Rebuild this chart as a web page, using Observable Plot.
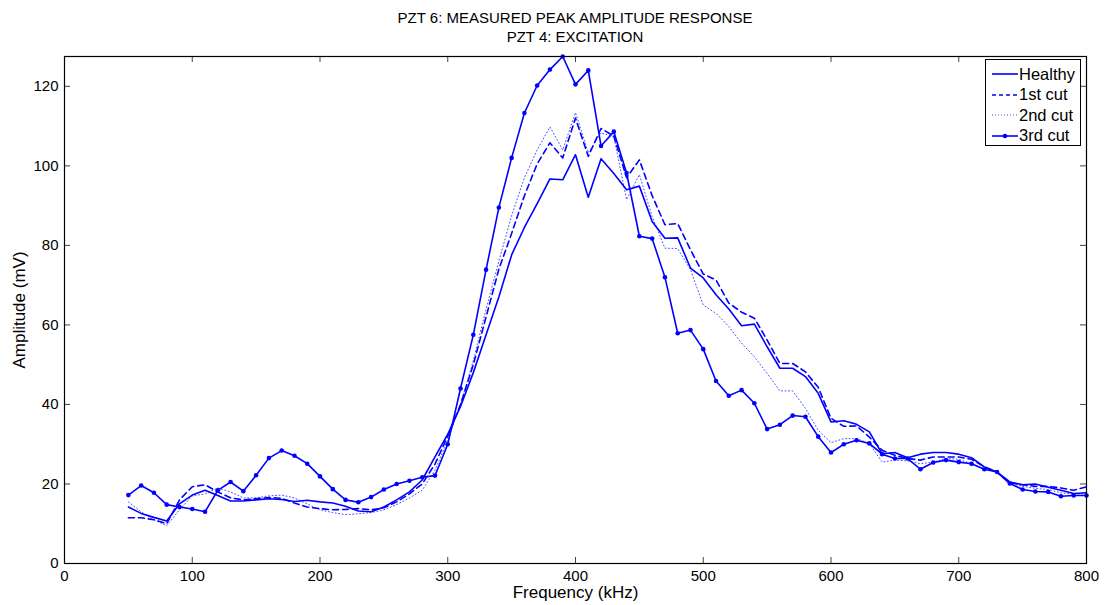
<!DOCTYPE html>
<html>
<head>
<meta charset="utf-8">
<script src="https://cdn.jsdelivr.net/npm/d3@7"></script>
<script src="https://cdn.jsdelivr.net/npm/@observablehq/plot@0.6"></script>
<style>
  html, body { margin: 0; padding: 0; background: #fff; }
  body { width: 1106px; height: 605px; position: relative; font-family: "Liberation Sans", Arial, sans-serif; overflow: hidden; }
  #title { position: absolute; left: 64px; top: 8px; width: 1022px; text-align: center; font-size: 15px; line-height: 19px; color: #000; }
  #chart { position: absolute; left: 0; top: 46px; }
  #legend { position: absolute; left: 985px; top: 59px; width: 96px; height: 87px; border: 1px solid #000; background: #fff; box-sizing: border-box; font-size: 16.5px; }
  #legend .row { position: absolute; left: 0; height: 20px; display: flex; align-items: center; }
  #legend svg { margin-left: 6px; margin-right: 1px; }
</style>
</head>
<body>
<div id="title">PZT 6: MEASURED PEAK AMPLITUDE RESPONSE<br>PZT 4: EXCITATION</div>
<div id="chart"></div>
<div id="legend"></div>
<script>
const freq = [50,60,70,80,90,100,110,120,130,140,150,160,170,180,190,200,210,220,230,240,250,260,270,280,290,300,310,320,330,340,350,360,370,380,390,400,410,420,430,440,450,460,470,480,490,500,510,520,530,540,550,560,570,580,590,600,610,620,630,640,650,660,670,680,690,700,710,720,730,740,750,760,770,780,790,800];

const healthy = [14.2,12.6,11.6,10.7,15.0,17.2,18.4,17.1,15.7,15.7,16.0,16.3,16.1,15.6,15.9,15.5,15.2,14.4,13.2,13.0,14.2,16.0,18.0,21.0,26.8,32.5,39.5,48.0,57.5,67.0,77.6,84.5,90.5,96.7,96.5,102.8,92.1,101.8,98.1,94.0,94.9,86.0,81.8,81.9,74.3,71.8,67.6,64.0,59.8,60.2,54.5,49.1,49.1,47.0,42.8,35.6,35.9,35.0,33.1,27.6,27.9,26.6,27.5,27.9,27.9,27.5,26.6,24.3,23.0,20.5,19.8,20.0,19.2,18.4,17.6,17.8];

const cut1 = [11.5,11.5,11.0,10.0,16.0,19.3,19.8,18.0,16.5,16.0,16.3,16.6,16.4,15.2,14.2,13.8,13.5,13.6,13.8,13.5,14.0,15.5,17.5,20.0,25.0,32.0,40.0,50.0,62.0,74.0,83.0,92.5,100.5,105.8,102.0,112.0,102.4,109.4,107.5,97.0,101.5,92.5,85.2,85.5,78.9,72.8,71.3,65.5,63.2,61.7,56.2,50.3,50.3,48.2,44.3,36.5,34.5,34.6,31.8,28.5,27.2,26.4,26.0,26.8,26.8,26.8,26.2,24.3,23.0,20.3,19.8,19.4,19.4,19.0,18.4,19.3];

const cut2 = [15.5,13.0,11.0,9.5,13.5,17.0,17.5,19.0,18.0,16.5,16.5,17.0,17.2,16.5,15.0,13.5,12.8,12.3,12.5,12.8,13.5,14.8,16.5,18.4,23.5,31.0,40.0,51.0,64.0,76.0,87.5,97.0,104.0,109.8,104.0,113.4,103.3,108.3,107.3,91.5,97.8,87.3,79.3,79.2,73.9,65.0,62.9,59.6,55.4,52.0,47.8,43.4,43.4,39.0,33.5,30.4,31.4,31.4,30.2,25.5,26.0,25.8,25.1,25.5,26.4,26.2,25.1,23.7,23.0,20.1,19.4,18.9,18.6,17.8,17.4,17.6];

const cut3 = [17.2,19.6,17.8,14.8,14.2,13.7,13.0,18.4,20.5,18.2,22.2,26.5,28.4,27.1,25.1,21.9,18.7,16.0,15.4,16.7,18.6,20.0,20.8,21.7,22.1,30.0,44.0,57.5,73.9,89.5,102.0,113.3,120.2,124.2,127.5,120.5,124.0,105.0,108.6,98.2,82.3,81.7,72.0,57.9,58.7,53.9,45.9,42.2,43.6,40.3,33.8,34.9,37.2,36.9,31.9,27.9,30.0,31.0,30.2,27.5,26.4,26.4,23.7,25.4,26.0,25.5,25.1,23.7,23.0,20.1,18.6,18.1,18.0,16.9,17.1,17.1];

const seriesNames = ["Healthy", "1st cut", "2nd cut", "3rd cut"];
const xTicks = [0,100,200,300,400,500,600,700,800];
const yTicks = [0,20,40,60,80,100,120];
const xDomain = [0, 800];
const yDomain = [0, 127.5];

const toRows = (vals) => freq.map((f, i) => ({f, v: vals[i]}));
const rowsH = toRows(healthy), rows1 = toRows(cut1), rows2 = toRows(cut2), rows3 = toRows(cut3);

const W = 1106, H = 559, mT = 10, mB = 42, mL = 64, mR = 20;
const frameH = H - mT - mB, frameW = W - mL - mR;
const blue = "#0000ff";
const tickLen = 6;

const plot = Plot.plot({
  width: W, height: H,
  marginTop: mT, marginBottom: mB, marginLeft: mL, marginRight: mR,
  style: {fontFamily: "Liberation Sans, Arial, sans-serif", fontSize: "15px", color: "#000", background: "#fff"},
  x: {domain: xDomain},
  y: {domain: yDomain},
  marks: [
    Plot.tickX(xTicks, {x: d => d, insetTop: frameH - tickLen, stroke: "#444", strokeWidth: 1}),
    Plot.tickX(xTicks, {x: d => d, insetBottom: frameH - tickLen, stroke: "#444", strokeWidth: 1}),
    Plot.tickY(yTicks, {y: d => d, insetRight: frameW - tickLen, stroke: "#444", strokeWidth: 1}),
    Plot.tickY(yTicks, {y: d => d, insetLeft: frameW - tickLen, stroke: "#444", strokeWidth: 1}),
    Plot.line(rows2, {x: "f", y: "v", stroke: blue, strokeWidth: 1, strokeDasharray: "1,2.5", strokeOpacity: 0.7}),
    Plot.line(rows1, {x: "f", y: "v", stroke: blue, strokeWidth: 1.6, strokeDasharray: "6,4"}),
    Plot.line(rowsH, {x: "f", y: "v", stroke: blue, strokeWidth: 1.6}),
    Plot.line(rows3, {x: "f", y: "v", stroke: blue, strokeWidth: 1.6}),
    Plot.dot(rows3, {x: "f", y: "v", fill: blue, r: 2.3}),
    Plot.frame({stroke: "#000", strokeWidth: 1.2}),
    Plot.axisX(xTicks, {tickSize: 0, tickPadding: 7, fontSize: 15, label: null}),
    Plot.axisX({tickSize: 0, ticks: [], label: "Frequency (kHz)", labelAnchor: "center", labelOffset: 34, labelArrow: "none", fontSize: 17}),
    Plot.axisY(yTicks, {tickSize: 0, tickPadding: 6, fontSize: 15, label: null}),
    Plot.axisY({tickSize: 0, ticks: [], label: "Amplitude (mV)", labelAnchor: "center", labelOffset: 52, labelArrow: "none", fontSize: 17})
  ]
});
document.getElementById("chart").appendChild(plot);

// Legend
const legend = document.getElementById("legend");
const styles = [
  {dash: null, w: 1.6, op: 1, marker: false},
  {dash: "4,3", w: 1.6, op: 1, marker: false},
  {dash: "1,2", w: 1, op: 0.7, marker: false},
  {dash: null, w: 1.6, op: 1, marker: true}
];
seriesNames.forEach((name, i) => {
  const row = document.createElement("div");
  row.className = "row";
  row.style.top = (4 + i * 20.5) + "px";
  const s = styles[i];
  const svgNS = "http://www.w3.org/2000/svg";
  const svg = document.createElementNS(svgNS, "svg");
  svg.setAttribute("width", 26); svg.setAttribute("height", 20);
  const ln = document.createElementNS(svgNS, "line");
  ln.setAttribute("x1", 0); ln.setAttribute("x2", 26); ln.setAttribute("y1", 10); ln.setAttribute("y2", 10);
  ln.setAttribute("stroke", blue); ln.setAttribute("stroke-width", s.w); ln.setAttribute("stroke-opacity", s.op);
  if (s.dash) ln.setAttribute("stroke-dasharray", s.dash);
  svg.appendChild(ln);
  if (s.marker) {
    const c = document.createElementNS(svgNS, "circle");
    c.setAttribute("cx", 13); c.setAttribute("cy", 10); c.setAttribute("r", 2.3); c.setAttribute("fill", blue);
    svg.appendChild(c);
  }
  row.appendChild(svg);
  const t = document.createElement("span");
  t.textContent = name;
  row.appendChild(t);
  legend.appendChild(row);
});
</script>
</body>
</html>
